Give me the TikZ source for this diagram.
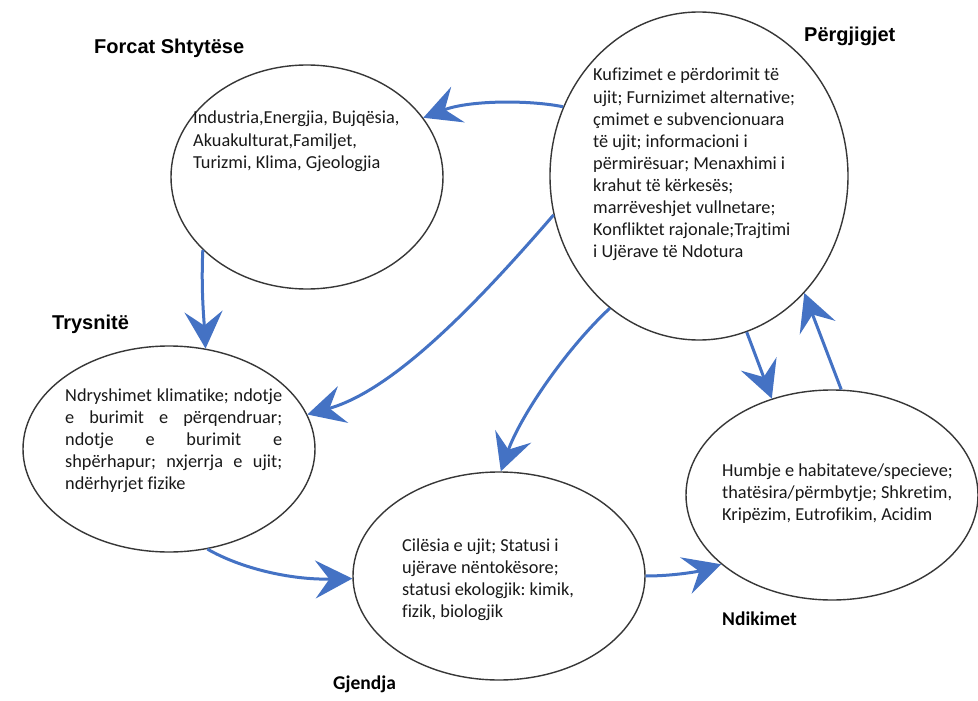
\documentclass[tikz,border=0pt]{standalone}
\usepackage{fontspec}
\setmainfont{Carlito}[Ligatures=NoCommon]
\newfontfamily\labfont{Liberation Sans}
\usetikzlibrary{arrows.meta,shapes.geometric}
\definecolor{arrblue}{RGB}{68,114,196}
\definecolor{edgegray}{RGB}{55,55,55}
\definecolor{txt}{RGB}{25,25,25}
\frenchspacing
\begin{document}
\begin{tikzpicture}[x=1pt,y=-1pt,
  bubble/.style={ellipse, draw=edgegray, line width=1.4pt, fill=white, inner sep=0pt},
  flow/.style={draw=arrblue, line width=3pt, -{Stealth[length=37pt,width=38pt,inset=14pt]}},
  body/.style={anchor=base west, inner sep=0pt, text=txt, font=\fontsize{18.3}{22.1}\selectfont},
  title/.style={anchor=base west, inner sep=0pt, font=\labfont\bfseries\fontsize{20}{24}\selectfont},
  ctitle/.style={anchor=base west, inner sep=0pt, font=\bfseries\fontsize{19.5}{24}\selectfont}]
\useasboundingbox (0,0) rectangle (978,701);
\fill[white] (0,0) rectangle (978,701);

% ellipses
\node[bubble, minimum width=272pt, minimum height=224pt] (forcat) at (307,177) {};
\node[bubble, minimum width=298pt, minimum height=328pt] (pergj) at (699,176) {};
\node[bubble, minimum width=292pt, minimum height=206pt] (trys) at (169,449) {};
\node[bubble, minimum width=292pt, minimum height=208pt] (gjend) at (499,576) {};
\node[bubble, minimum width=292pt, minimum height=210pt] (ndik) at (832,495) {};

% connectors
\draw[flow] (pergj.153.6) .. controls (530,100) and (470,100) .. (forcat.27.3);
\draw[flow] (forcat.215.5) .. controls (201,290) and (204,320) .. (trys.70.9);
\draw[flow] (pergj.195.7) .. controls (480,300) and (395,390) .. (trys.14.9);
\draw[flow] (pergj.236.8) .. controls (565,350) and (520,417) .. (gjend.89.5);
\draw[flow] (trys.291.7) .. controls (240,568) and (290,580) .. (gjend.181.2);
\draw[flow] (gjend.0) .. controls (675,576) and (700,571) .. (ndik.212.7);
\draw[flow] (pergj.287.3) -- (ndik.122.6);
\draw[flow] (ndik.85.6) -- (pergj.312.1);

% labels
\node[title] (lforcat) at (94,54) {Forcat Shtytëse};
\node[title] (lpergj) at (804,42) {Përgjigjet};
\node[title] (ltrys) at (52,329) {Trysnitë};
\node[ctitle] (lgjend) at (333,689) {Gjendja};
\node[ctitle] (lndik) at (722,625) {Ndikimet};

% texts
\node[body] (tforcat) at (193,124) {\parbox[t]{260pt}{\raggedright
Industria,Energjia, Bujqësia,\\
Akuakulturat,Familjet,\\
Turizmi, Klima, Gjeologjia}};
\node[body] (tpergj) at (593,81) {\parbox[t]{240pt}{\raggedright
Kufizimet e përdorimit të\\
ujit; Furnizimet alternative;\\
çmimet e subvencionuara\\
të ujit; informacioni i\\
përmirësuar; Menaxhimi i\\
krahut të kërkesës;\\
marrëveshjet vullnetare;\\
Konfliktet rajonale;Trajtimi\\
i Ujërave të Ndotura}};
\node[body] (ttrys) at (65,401) {\parbox[t]{217pt}{%
Ndryshimet klimatike; ndotje\linebreak
e burimit e përqendruar;\linebreak
ndotje e burimit e\linebreak
shpërhapur; nxjerrja e ujit;\linebreak
ndërhyrjet fizike}};
\node[body] (tgjend) at (402,551) {\parbox[t]{240pt}{\raggedright
Cilësia e ujit; Statusi i\\
ujërave nëntokësore;\\
statusi ekologjik: kimik,\\
fizik, biologjik}};
\node[body] (tndik) at (722,476) {\parbox[t]{250pt}{\raggedright
Humbje e habitateve/specieve;\\
thatësira/përmbytje; Shkretim,\\
Kripëzim, Eutrofikim, Acidim}};
\end{tikzpicture}
\end{document}
